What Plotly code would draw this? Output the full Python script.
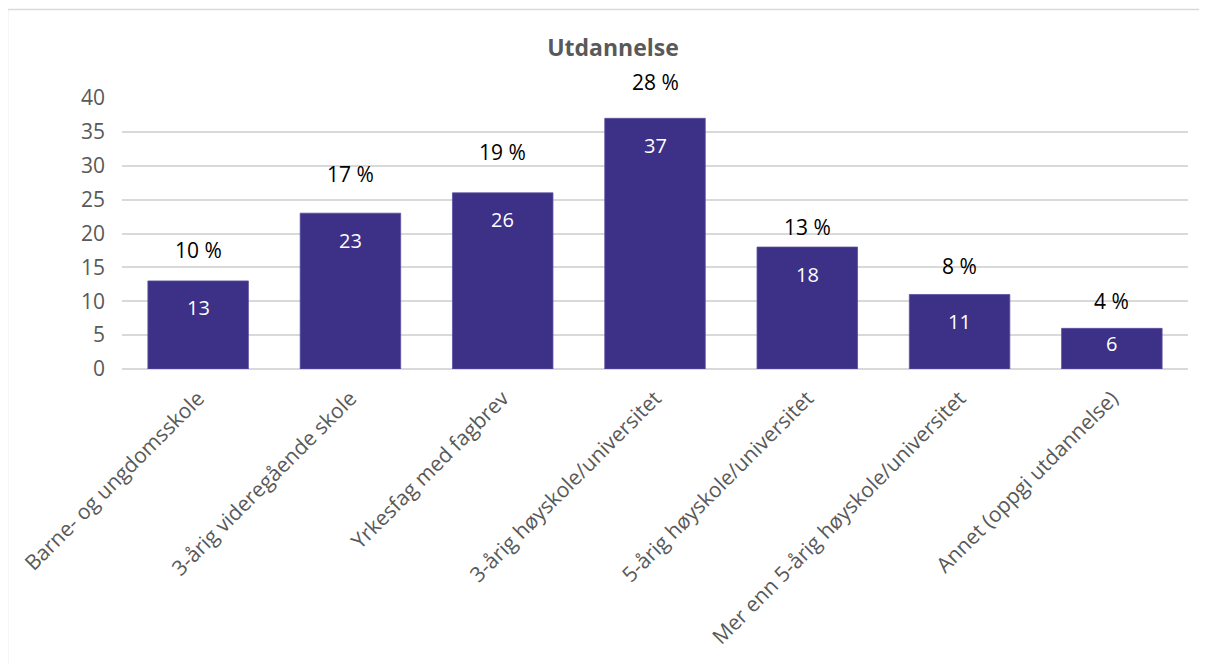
import plotly.graph_objects as go

categories = [
    "Barne- og ungdomsskole",
    "3-årig videregående skole",
    "Yrkesfag med fagbrev",
    "3-årig høyskole/universitet",
    "5-årig høyskole/universitet",
    "Mer enn 5-årig høyskole/universitet",
    "Annet (oppgi utdannelse)",
]
counts = [13, 23, 26, 37, 18, 11, 6]
percent_labels = ["10 %", "17 %", "19 %", "28 %", "13 %", "8 %", "4 %"]
# pixel offsets of the percent labels above each bar (layout tweak)
percent_offsets_px = [31, 39, 41, 36, 20, 28, 27]
y_ticks = [0, 5, 10, 15, 20, 25, 30, 35, 40]

BAR = "#3C3087"
GRID = "#D9D9D9"
GRAY = "#595959"
FONT = "Open Sans"

# the page body adds an 8px margin; compensate
OFF = 8
W, H = 1207 - OFF, 664 - OFF
L, R, T, B = 122 - OFF, 19, 98 - OFF, 295
pw, ph = W - L - R, H - T - B
Y_MAX = 40
px_per_unit = ph / Y_MAX

fig = go.Figure()
fig.add_trace(go.Bar(
    x=categories, y=counts, width=0.66,
    marker=dict(color=BAR, line=dict(color="#5A50A0", width=0.8)),
    hoverinfo="x+y",
))

for c, v in zip(categories, counts):
    inner = min(27, v * px_per_unit / 2 - 5)
    fig.add_annotation(x=c, y=v, text=str(v), showarrow=False,
                       yshift=-inner, yanchor="middle",
                       font=dict(family=FONT, size=20, color="white"))

for c, v, t, off in zip(categories, counts, percent_labels, percent_offsets_px):
    fig.add_annotation(x=c, y=v, text=t, showarrow=False,
                       yshift=off, yanchor="middle",
                       font=dict(family=FONT, size=21, color="black"))

# chart-area border (top and left visible)
x0 = (7.5 - OFF - L) / pw
y1 = (T + ph - (9.5 - OFF)) / ph
fig.add_shape(type="rect", xref="paper", yref="paper",
              x0=x0, x1=1.2, y0=-2, y1=y1,
              line=dict(color=GRID, width=1.5), layer="below")

fig.update_layout(
    width=W, height=H,
    margin=dict(l=L, r=R, t=T, b=B, autoexpand=False),
    paper_bgcolor="white", plot_bgcolor="white",
    showlegend=False,
    title=dict(text="<b>Utdannelse</b>", x=(613 - OFF - L) / pw, xref="paper",
               xanchor="center", y=1 - (48 - OFF) / H, yanchor="middle",
               font=dict(family=FONT, size=23, color=GRAY)),
    font=dict(family=FONT, size=20, color=GRAY),
)
fig.update_xaxes(
    tickangle=-45, showgrid=False, showline=False, zeroline=False,
    tickfont=dict(family=FONT, size=21, color=GRAY), ticklabelstandoff=12,
    range=[-0.5, len(categories) - 0.5],
)
fig.update_yaxes(
    range=[0, Y_MAX], tickvals=y_ticks, showgrid=True, gridcolor=GRID, gridwidth=1.5,
    zeroline=True, zerolinecolor=GRID, zerolinewidth=1.5, showline=False,
    tickfont=dict(family=FONT, size=21, color=GRAY), ticklabelstandoff=16,
)

fig.write_html("out.html")
